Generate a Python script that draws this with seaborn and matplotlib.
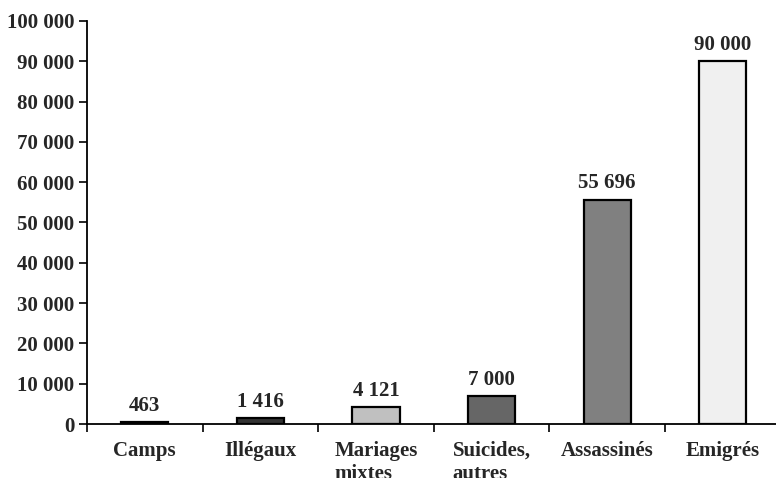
import matplotlib
matplotlib.use("Agg")
import matplotlib.pyplot as plt
import seaborn as sns
import pandas as pd
from matplotlib.ticker import FuncFormatter, FixedLocator

categories = ["Camps", "Illégaux", "Mariages\nmixtes", "Suicides,\nautres", "Assassinés", "Emigrés"]
values = [463, 1416, 4121, 7000, 55696, 90000]
colors = ["#141414", "#333333", "#c0c0c0", "#666666", "#808080", "#f0f0f0"]
yticks = list(range(0, 100001, 10000))

sns.set_theme(style="white")
plt.rcParams["font.family"] = ["Liberation Serif", "DejaVu Serif"]
plt.rcParams["font.weight"] = "bold"

FS = 15

df = pd.DataFrame({"cat": categories, "val": values})

fig = plt.figure(figsize=(7.76, 4.78), dpi=100)
ax = fig.add_axes([87 / 776, 54 / 478, (780.6 - 87) / 776, 403 / 478])

sns.barplot(data=df, x="cat", y="val", hue="cat", palette=colors, legend=False,
            width=0.41, edgecolor="black", linewidth=1.6, saturation=1, ax=ax)


def fmt(v):
    return f"{int(round(v)):,}".replace(",", " ")


for i, v in enumerate(values):
    ax.annotate(fmt(v), (i, v), xytext=(0, 4.5), textcoords="offset points",
                ha="center", va="bottom", fontsize=FS, fontweight="bold")

ax.set_ylim(0, 100000)
ax.set_xlim(-0.5, len(categories) - 0.5)
ax.yaxis.set_major_locator(FixedLocator(yticks))
ax.yaxis.set_major_formatter(FuncFormatter(lambda v, p: fmt(v)))

# category separators as tick marks on the x axis
ax.set_xticks([i - 0.5 for i in range(len(categories) + 1)], minor=False)
ax.set_xticklabels([])
ax.set_xticks(range(len(categories)), minor=True)
ax.set_xticklabels(categories, minor=True, fontsize=FS, fontweight="bold",
                   multialignment="left", va="top", linespacing=1.25)
ax.tick_params(axis="x", which="major", direction="out", length=6, width=1.2,
               color="black", bottom=True)
ax.tick_params(axis="x", which="minor", length=0, pad=12)
ax.tick_params(axis="y", direction="out", length=6, width=1.2, color="black",
               left=True, labelsize=FS, pad=3)
for lab in ax.get_yticklabels():
    lab.set_fontweight("bold")

ax.set_xlabel("")
ax.set_ylabel("")
for s in ["top", "right"]:
    ax.spines[s].set_visible(False)
for s in ["left", "bottom"]:
    ax.spines[s].set_color("black")
    ax.spines[s].set_linewidth(1.3)

fig.savefig("out.png", dpi=100)
